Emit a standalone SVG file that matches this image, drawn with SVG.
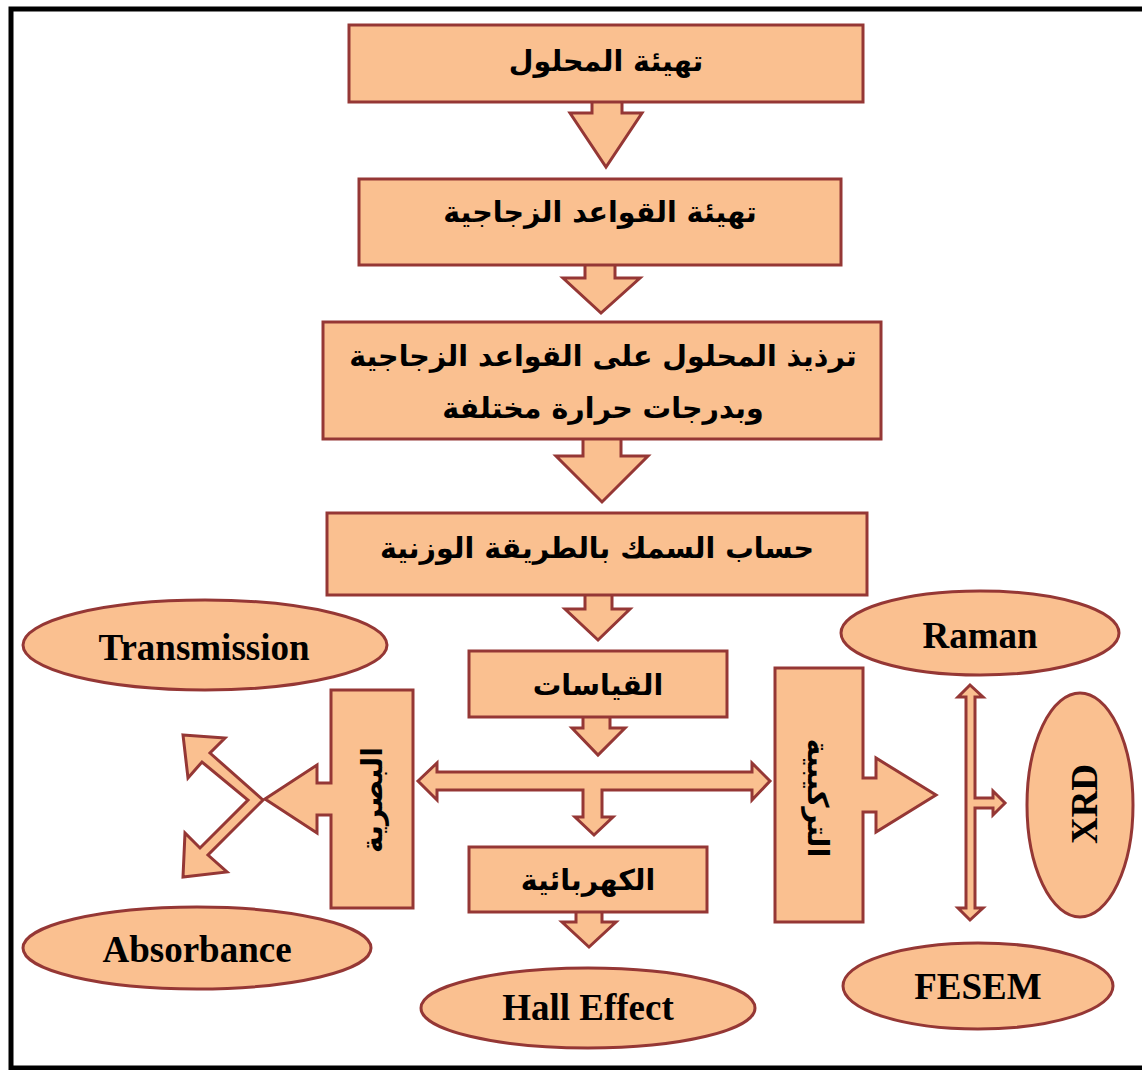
<svg xmlns="http://www.w3.org/2000/svg" width="1142" height="1070" viewBox="0 0 1142 1070">
<style>
.b{fill:#FAC090;stroke:#953735;stroke-width:3;stroke-linejoin:miter}
.ar{font-family:"DejaVu Sans",sans-serif;font-weight:bold;font-size:28.5px;fill:#000;text-anchor:middle}
.en{font-family:"Liberation Serif",serif;font-weight:bold;font-size:37px;fill:#000;text-anchor:middle}
</style>
<rect x="0" y="0" width="1142" height="1070" fill="#fff"/>
<path d="M1142,9 H11 V1068 H1142" fill="none" stroke="#000" stroke-width="5"/>
<g id="connectors">
<path class="b" d="M592,100 V113 H570 L606,167 L642,113 H622 V100"/>
<path class="b" d="M585,263 V278 H563 L601,313 L640,278 H615 V263"/>
<path class="b" d="M583,437 V456 H556 L602,502 L648,456 H621 V437"/>
<path class="b" d="M585,593 V609 H565 L598,640 L630,609 H612 V593"/>
<path class="b" d="M583,715 V728 H572 L598,755 L625,728 H610 V715"/>
<path class="b" d="M576,910 V922 H562 L589,947 L616,922 H602 V910"/>
<path class="b" d="M418,781 L437,763 V772 H752 V763 L770,781 L752,800 V790 H602 V817 H613 L594,835 L575,817 H583 V790 H437 V800 Z"/>
<path class="b" d="M183,735 L225,738 L210,753 L263,800 L208,855 L227,872 L183,877 L185,833 L200,848 L248,800 L202,762 L188,778 Z"/>
<path class="b" d="M970,685 L983,697 H975 V798 H993 V791 L1005,803 L993,815 V808 H975 V908 H983 L970,920 L958,908 H966 V697 H958 Z"/>
</g>
<g id="n1"><rect class="b" x="349" y="25" width="514" height="77"/><text class="ar" x="606" y="71">تهيئة المحلول</text></g>
<g id="n2"><rect class="b" x="359" y="179" width="482" height="86"/><text class="ar" x="600" y="222">تهيئة القواعد الزجاجية</text></g>
<g id="n3"><rect class="b" x="323" y="322" width="558" height="117"/><text class="ar" x="603" y="366">ترذيذ المحلول على القواعد الزجاجية</text><text class="ar" x="603" y="418">وبدرجات حرارة مختلفة</text></g>
<g id="n4"><rect class="b" x="327" y="513" width="540" height="82"/><text class="ar" x="597" y="558">حساب السمك بالطريقة الوزنية</text></g>
<g id="n5"><rect class="b" x="469" y="651" width="258" height="66"/><text class="ar" x="598" y="695">القياسات</text></g>
<g id="n6"><rect class="b" x="469" y="847" width="238" height="65"/><text class="ar" x="588" y="890">الكهربائية</text></g>
<g id="n7"><path class="b" d="M331,690 H413 V908 H331 V815 H317 V833 L265,799 L317,765 V783 H331 Z"/><text class="ar" transform="translate(372,800) rotate(-90)" y="10">البصرية</text></g>
<g id="n8"><path class="b" d="M775,668 H863 V778 H876 V758 L936,795 L876,832 V812 H863 V922 H775 Z"/><text class="ar" transform="translate(818,798) rotate(90)" y="10">التركيبية</text></g>
<g id="e1"><ellipse class="b" cx="205" cy="645" rx="182" ry="45"/><text class="en" x="204" y="660">Transmission</text></g>
<g id="e2"><ellipse class="b" cx="197" cy="948" rx="174" ry="41"/><text class="en" x="197" y="962">Absorbance</text></g>
<g id="e3"><ellipse class="b" cx="588" cy="1008" rx="167" ry="40"/><text class="en" x="588" y="1020">Hall Effect</text></g>
<g id="e4"><ellipse class="b" cx="980" cy="633" rx="139" ry="42"/><text class="en" x="980" y="648">Raman</text></g>
<g id="e5"><ellipse class="b" cx="1080" cy="805" rx="53" ry="112"/><text class="en" transform="translate(1097,804) rotate(-90)" y="0">XRD</text></g>
<g id="e6"><ellipse class="b" cx="978" cy="986" rx="135" ry="43"/><text class="en" x="978" y="999">FESEM</text></g>
</svg>
